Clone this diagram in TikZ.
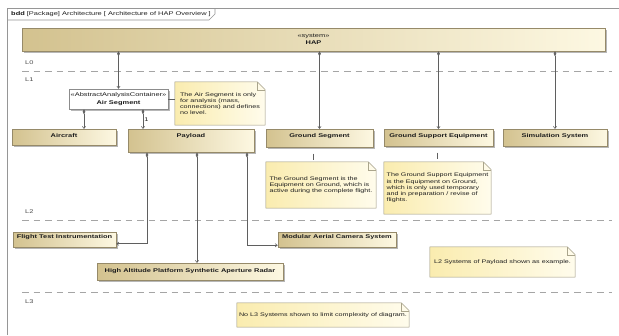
\documentclass[tikz,border=0pt]{standalone}
\usepackage{fontspec}
\setmainfont[FakeStretch=1.38]{Liberation Sans}
\usetikzlibrary{arrows.meta,shadows,backgrounds,calc}
\definecolor{tanL}{RGB}{211,194,143}
\definecolor{creamR}{RGB}{253,248,226}
\definecolor{blkB}{RGB}{150,138,105}
\definecolor{noteL}{RGB}{250,236,175}
\definecolor{noteR}{RGB}{255,252,236}
\definecolor{noteB}{RGB}{170,165,140}
\definecolor{lineC}{RGB}{95,95,95}
\definecolor{dashC}{RGB}{165,165,165}
\definecolor{frameC}{RGB}{150,150,150}
\definecolor{txtC}{RGB}{30,30,30}
\tikzset{
  base/.style={draw=blkB, line width=0.5pt, left color=tanL, right color=creamR,
    drop shadow={shadow xshift=1.6pt, shadow yshift=-1.6pt, fill=black!35, opacity=0.8},
    inner sep=0pt},
  blk/.style={base, font=\fontsize{5.4}{6.2}\selectfont\bfseries, text height=8pt, text depth=8pt, anchor=north},
  segbox/.style={draw=black!45, line width=0.5pt, fill=white,
    drop shadow={shadow xshift=1.6pt, shadow yshift=-1.6pt, fill=black!35, opacity=0.8},
    inner sep=0pt, align=center},
  notebox/.style={inner sep=0pt, align=left, font=\fontsize{5.2}{6.2}\selectfont},
  comp/.style={draw=lineC, line width=0.55pt,
    {Diamond[length=5pt,width=2.6pt,fill=lineC]}-{Straight Barb[length=2.2pt,width=3.2pt]}},
  anch/.style={draw=lineC, line width=0.5pt},
  lvl/.style={draw=dashC, line width=0.7pt, dash pattern=on 6.5pt off 5pt},
  lbl/.style={anchor=west, inner sep=0pt, text=black!70},
}
\newcommand\dogear[1]{%
  \begin{scope}[on background layer]
    \fill[black!30,xshift=1.6pt,yshift=-1.6pt] (#1.north west) -- ([xshift=-8pt]#1.north east)
      -- ([yshift=-8pt]#1.north east) -- (#1.south east) -- (#1.south west) -- cycle;
    \shadedraw[left color=noteL, right color=noteR, draw=noteB, line width=0.5pt]
      (#1.north west) -- ([xshift=-8pt]#1.north east)
      -- ([yshift=-8pt]#1.north east) -- (#1.south east) -- (#1.south west) -- cycle;
    \draw[noteB, line width=0.5pt] ([xshift=-8pt]#1.north east) |- ([yshift=-8pt]#1.north east);
  \end{scope}}
\begin{document}
\begin{tikzpicture}[x=1pt,y=-1pt, font=\fontsize{5.4}{6.2}\selectfont, text=txtC]
\useasboundingbox (0,0) rectangle (619,335);
\begin{scope}[on background layer]
\fill[white] (0,0) rectangle (619,335);
\end{scope}
% frame and title tab
\draw[frameC, line width=0.7pt] (7,335) -- (7,8) -- (619,8);
\draw[frameC, line width=0.6pt] (7,20) -- (209,20) -- (215,14) -- (215,8);
\node[anchor=west, inner sep=0pt] (title) at (11,14.3)
  {\textbf{bdd} [Package] Architecture [ Architecture of HAP Overview ]};
% level lines
\draw[lvl] (22,71) -- (612,71);
\draw[lvl] (22,220) -- (612,220);
\draw[lvl] (22,292.5) -- (612,292.5);
\node[lbl] (l0) at (25,63) {L0};
\node[lbl] (l1) at (25,79.5) {L1};
\node[lbl] (l2) at (25,211.5) {L2};
\node[lbl] (l3) at (25,302) {L3};
% blocks
\node[base, minimum width=583pt, minimum height=23pt, align=center] (hap) at (313.5,39.5)
  {«system»\\[0.6pt]\textbf{HAP}};
\node[segbox, minimum width=99pt, minimum height=20pt] (airseg) at (118.5,99)
  {«AbstractAnalysisContainer»\\[1.2pt]\textbf{Air Segment}};
\node[blk, minimum width=104pt] (aircraft) at (64,129) {Aircraft};
\node[blk, minimum width=126pt, text depth=15pt] (payload) at (191,129) {Payload};
\node[blk, minimum width=107pt, text depth=10pt] (gs) at (319.5,129) {Ground Segment};
\node[blk, minimum width=109pt, text depth=9pt] (gse) at (438.5,129) {Ground Support Equipment};
\node[blk, minimum width=104pt, text depth=9pt] (sim) at (555,129) {Simulation System};
\node[blk, minimum width=103pt, text height=6.5pt, text depth=8.5pt] (fti) at (64.5,232) {Flight Test Instrumentation};
\node[blk, minimum width=186pt, text height=9pt, text depth=8pt] (sar) at (190,263) {High Altitude Platform Synthetic Aperture Radar};
\node[blk, minimum width=118pt, text height=6.5pt, text depth=8.5pt] (mod) at (337,232) {Modular Aerial Camera System};
% notes
\node[notebox, minimum width=90pt, minimum height=43pt] (airnote) at (220,103.5)
  {The Air Segment is only\\for analysis (mass,\\connections) and defines\\no level.};
\dogear{airnote}
\node[notebox, minimum width=110pt, minimum height=46pt] (gsnote) at (321,185)
  {The Ground Segment is the\\Equipment on Ground, which is\\active during the complete flight.};
\dogear{gsnote}
\node[notebox, minimum width=107pt, minimum height=52pt] (gsenote) at (437.5,188)
  {The Ground Support Equipment\\is the Equipment on Ground,\\which is only used temporary\\and in preparation / revise of\\flights.};
\dogear{gsenote}
\node[notebox, minimum width=145pt, minimum height=30pt] (l2note) at (502.5,262)
  {L2 Systems of Payload shown as example.};
\dogear{l2note}
\node[notebox, minimum width=172pt, minimum height=24pt, text depth=-4pt] (l3note) at (323,315)
  {No L3 Systems shown to limit complexity of diagram.};
\dogear{l3note}
% composition connectors
\draw[comp] (hap.south -| airseg.north) -- (airseg.north);
\draw[comp] (hap.south -| gs.north) -- (gs.north);
\draw[comp] (hap.south -| gse.north) -- (gse.north);
\draw[comp] (hap.south -| sim.north) -- (sim.north);
\coordinate (a1) at ([xshift=-34.5pt]airseg.south);
\coordinate (a2) at ([xshift=24.5pt]airseg.south);
\draw[comp] (a1) -- (a1 |- aircraft.north);
\draw[comp] (a2) -- (a2 |- payload.north) node[pos=0.55, right, inner sep=1.2pt] (mult) {1};
\coordinate (p1) at ([xshift=-44pt]payload.south);
\coordinate (p2) at ([xshift=6pt]payload.south);
\coordinate (p3) at ([xshift=56pt]payload.south);
\draw[comp] (p1) |- ([yshift=-4pt]fti.east);
\draw[comp] (p2) -- (p2 |- sar.north);
\draw[comp] (p3) |- ([yshift=-5.5pt]mod.west);
% note anchors
\draw[anch] (airseg.east) -- (airseg.east -| airnote.west);
\coordinate (g1) at ([xshift=-6.5pt]gs.south);
\coordinate (g2) at ([xshift=-1.5pt]gse.south);
\draw[anch, shorten <=6pt, shorten >=2pt] (g1) -- (g1 |- gsnote.north);
\draw[anch, shorten <=6pt, shorten >=3pt] (g2) -- (g2 |- gsenote.north);
\end{tikzpicture}
\end{document}
